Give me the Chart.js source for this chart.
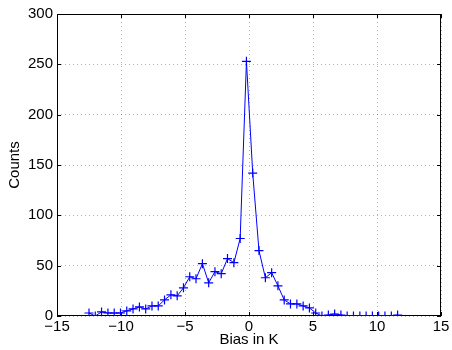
<!DOCTYPE html>
<html>
<head>
<meta charset="utf-8">
<script src="https://cdn.jsdelivr.net/npm/chart.js@4/dist/chart.umd.min.js"></script>
<style>
  html, body { margin: 0; padding: 0; background: #fff; }
  #c { display: block; }
</style>
</head>
<body>
<canvas id="c" width="452" height="350"></canvas>
<script>
// Bias values (K) at which counts were taken
const biasValues = [
  -12.50, -12.01, -11.52, -11.02, -10.53, -10.04, -9.55, -9.06, -8.56, -8.07,
  -7.58, -7.09, -6.60, -6.10, -5.61, -5.12, -4.63, -4.14, -3.64, -3.15,
  -2.66, -2.17, -1.68, -1.18, -0.69, -0.20, 0.29, 0.78, 1.28, 1.77,
  2.26, 2.75, 3.24, 3.74, 4.23, 4.72, 5.21, 5.70, 6.20, 6.69,
  7.18, 7.67, 8.16, 8.66, 9.15, 9.64, 10.13, 10.62, 11.12, 11.61
];
// Counts per bias bin
const counts = [
  3, 0, 4, 3, 3, 3, 5, 7, 9, 7,
  10, 10, 16, 21, 20, 28, 39, 37, 52, 33,
  44, 42, 57, 53, 77, 253, 142, 65, 38, 43,
  30, 16, 12, 12, 10, 8, 3, 0, 1, 2,
  1, 0, 0, 0, 0, 0, 0, 0, 0, 1
];
const xTicks = [-15, -10, -5, 0, 5, 10, 15];
const yTicks = [0, 50, 100, 150, 200, 250, 300];
const xLabel = 'Bias in K';
const yLabel = 'Counts';

const points = biasValues.map((x, i) => ({ x: x, y: counts[i] }));
const fmt = v => String(v).replace('-', '\u2212');

const framePlugin = {
  id: 'frame',
  beforeDatasetsDraw(chart) {
    const { ctx, chartArea: a, scales } = chart;
    ctx.save();
    ctx.strokeStyle = '#000';
    ctx.lineWidth = 1;
    ctx.strokeRect(Math.round(a.left) + 0.5, Math.round(a.top) + 0.5,
                   Math.round(a.right - a.left) - 1, Math.round(a.bottom - a.top) - 1);
    const tl = 4;
    ctx.beginPath();
    xTicks.forEach(v => {
      const px = Math.round(scales.x.getPixelForValue(v)) + 0.5;
      ctx.moveTo(px, a.bottom); ctx.lineTo(px, a.bottom - tl);
      ctx.moveTo(px, a.top); ctx.lineTo(px, a.top + tl);
    });
    yTicks.forEach(v => {
      const py = Math.round(scales.y.getPixelForValue(v)) + 0.5;
      ctx.moveTo(a.left, py); ctx.lineTo(a.left + tl, py);
      ctx.moveTo(a.right, py); ctx.lineTo(a.right - tl, py);
    });
    ctx.stroke();
    ctx.restore();
  }
};

Chart.defaults.font.family = '"Liberation Sans", Arial, Helvetica, sans-serif';
Chart.defaults.font.size = 15;
Chart.defaults.color = '#000';

new Chart(document.getElementById('c'), {
  type: 'line',
  data: {
    datasets: [{
      data: points,
      borderColor: '#0000ff',
      backgroundColor: '#0000ff',
      borderWidth: 1,
      tension: 0,
      pointStyle: 'cross',
      pointRadius: 4.5,
      pointBorderWidth: 1.2,
      pointBorderColor: '#0000ff',
      fill: false
    }]
  },
  options: {
    responsive: false,
    devicePixelRatio: 1,
    animation: false,
    layout: { padding: { left: 0, right: 11, top: 14, bottom: 0 } },
    plugins: { legend: { display: false }, tooltip: { enabled: false } },
    scales: {
      x: {
        type: 'linear',
        min: -15, max: 15,
        afterBuildTicks: s => { s.ticks = xTicks.map(v => ({ value: v })); },
        afterFit: s => { s.height = 34; },
        ticks: { padding: 2, maxRotation: 0, autoSkip: false, callback: v => fmt(v) },
        grid: { color: 'rgba(0,0,0,0.3)', drawTicks: false, lineWidth: 1 },
        border: { display: false, dash: [1, 3] },
        title: { display: true, text: xLabel, padding: { top: 0, bottom: 1 } }
      },
      y: {
        type: 'linear',
        min: 0, max: 300,
        afterBuildTicks: s => { s.ticks = yTicks.map(v => ({ value: v })); },
        afterFit: s => { s.width = 57; },
        ticks: { padding: 4, autoSkip: false, callback: v => fmt(v) },
        grid: { color: 'rgba(0,0,0,0.3)', drawTicks: false, lineWidth: 1 },
        border: { display: false, dash: [1, 3] },
        title: { display: true, text: yLabel, padding: { top: 6, bottom: 0 } }
      }
    }
  },
  plugins: [framePlugin]
});
</script>
</body>
</html>
